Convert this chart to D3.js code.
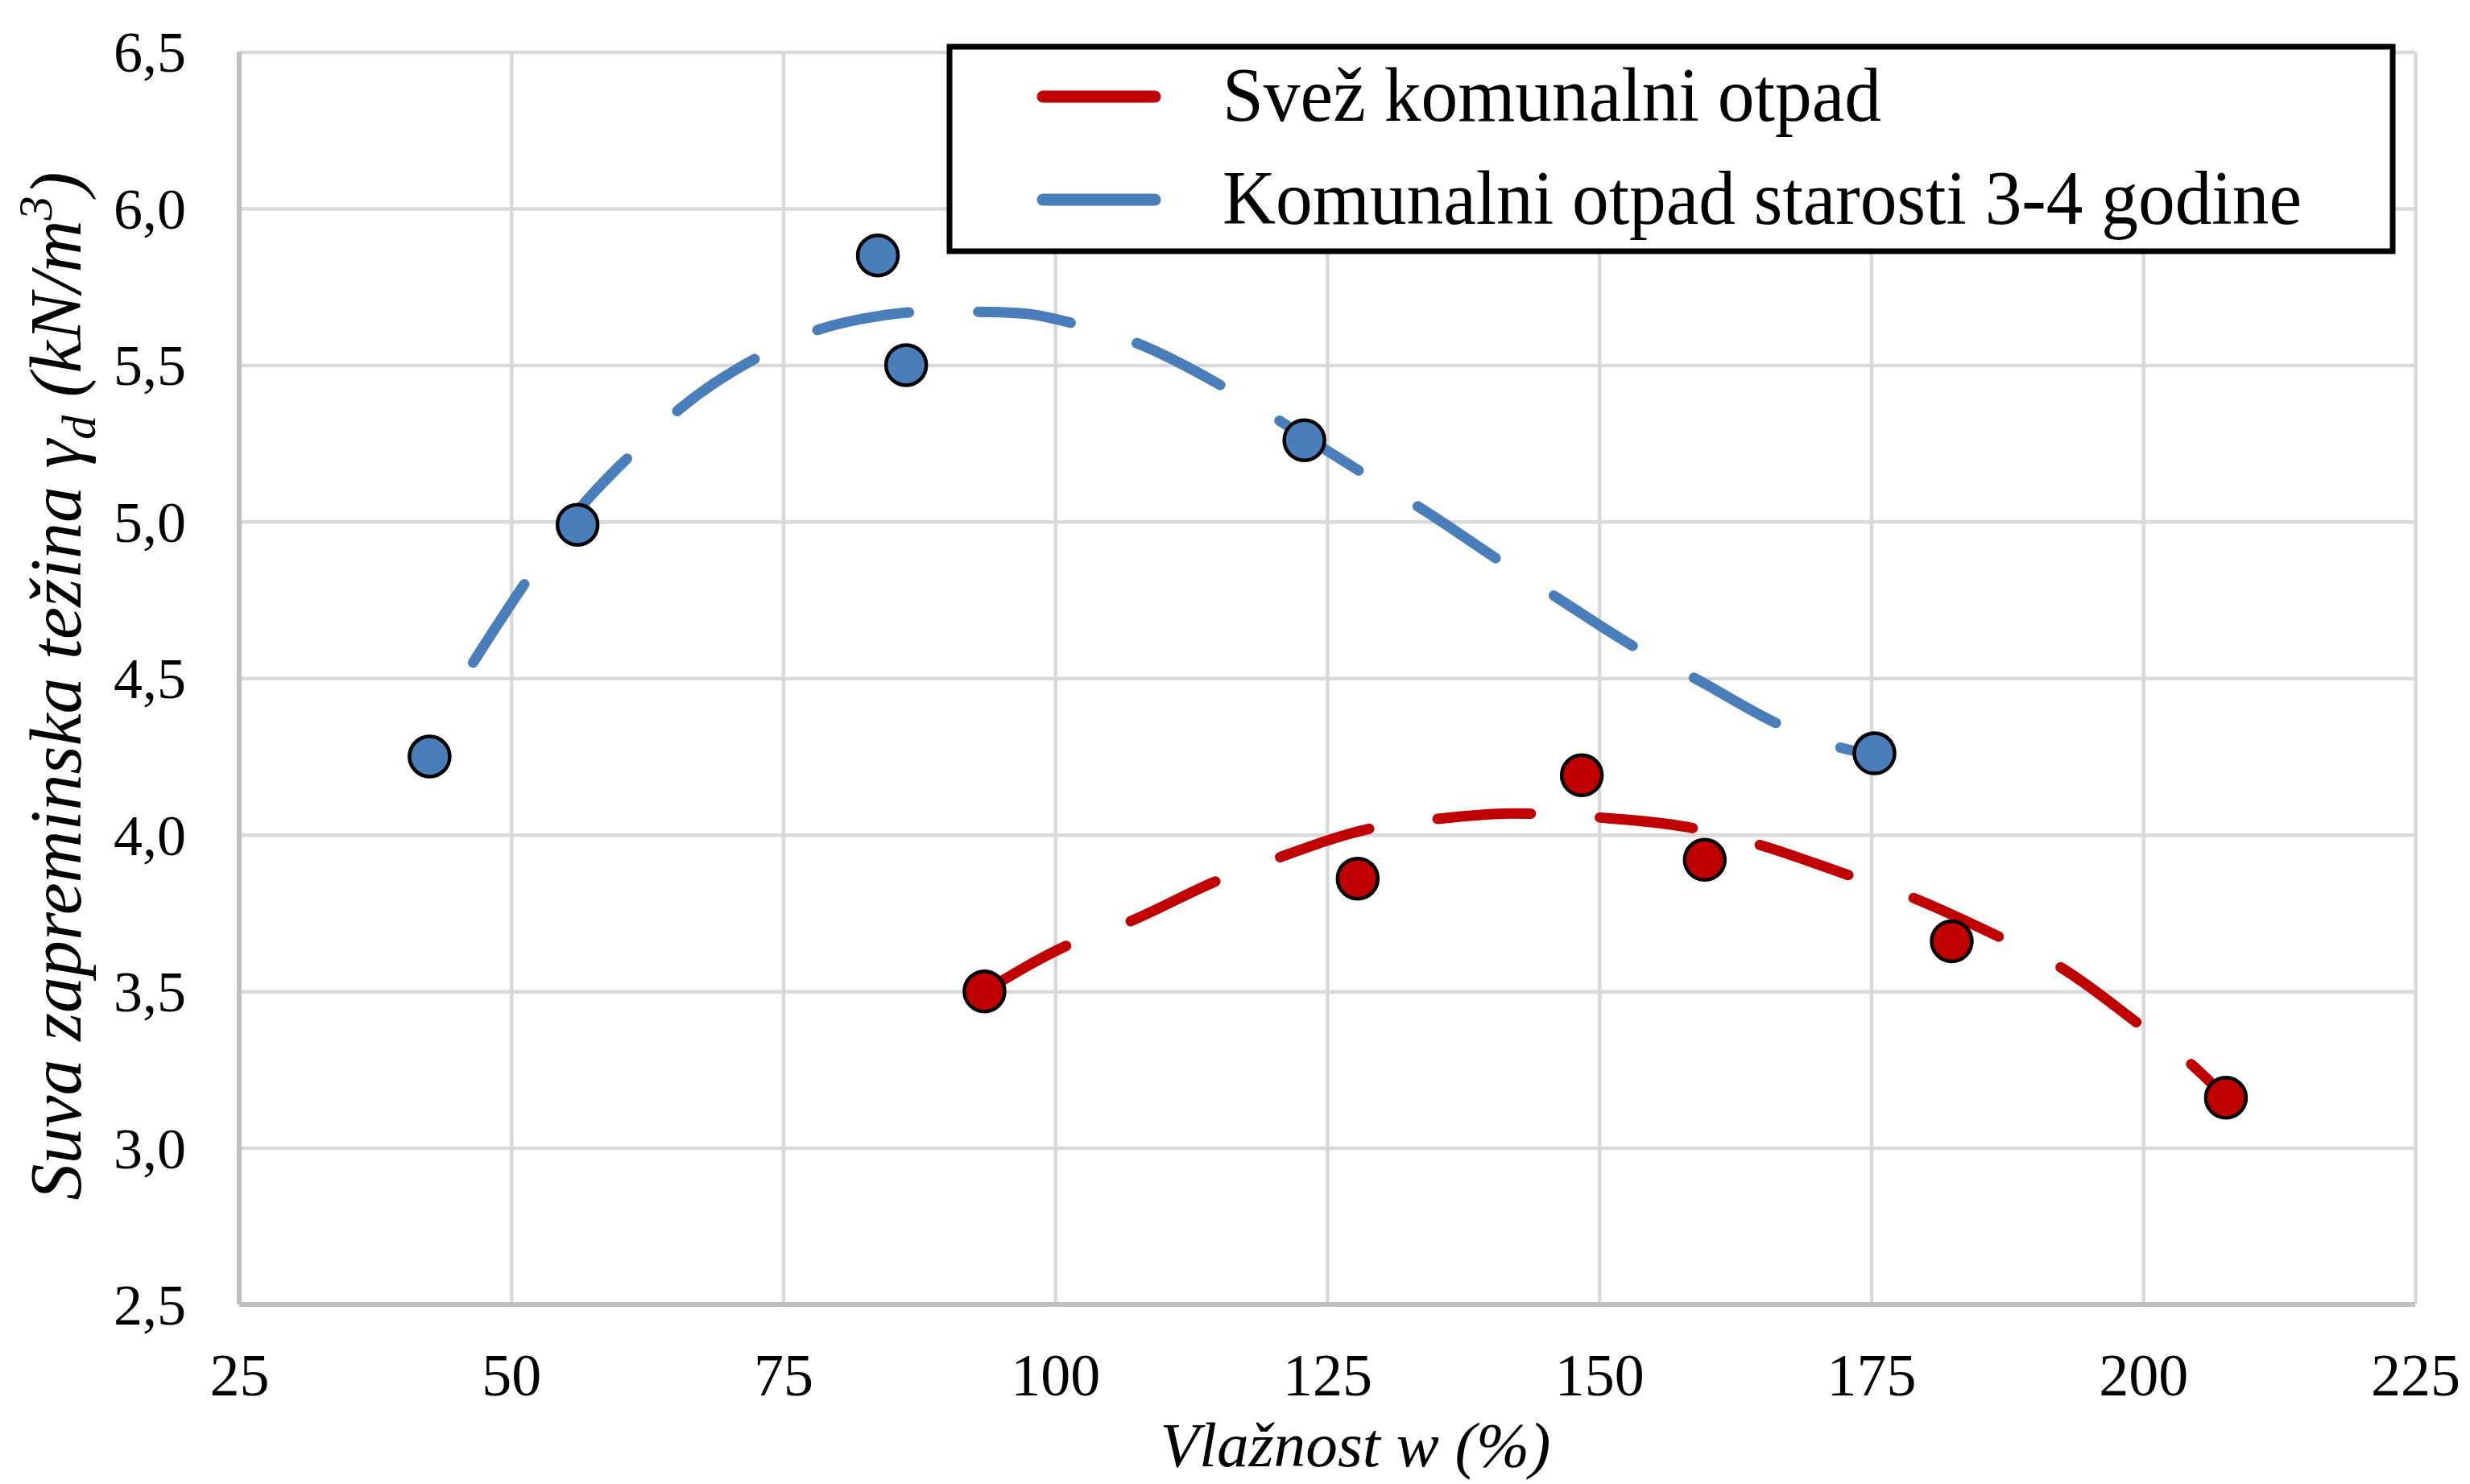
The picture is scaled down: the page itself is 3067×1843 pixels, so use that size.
<!DOCTYPE html>
<html>
<head>
<meta charset="utf-8">
<script src="https://cdn.jsdelivr.net/npm/d3@7"></script>
<style>
  body { margin: 0; background: #fff; }
  svg text { font-family: "Liberation Serif", "Times New Roman", serif; fill: #000; }
</style>
</head>
<body>
<div id="chart"></div>
<script>
// axis ticks
const xTicks = [25, 50, 75, 100, 125, 150, 175, 200, 225];
const yTicks = [2.5, 3.0, 3.5, 4.0, 4.5, 5.0, 5.5, 6.0, 6.5];

const seriesNames = ["Svež komunalni otpad", "Komunalni otpad starosti 3-4 godine"];
const seriesColors = ["#c00000", "#4a7ebb"];

// measured points: moisture w (%) and dry unit weight (kN/m3)
const freshW = [93.5, 127.8, 148.4, 159.7, 182.4, 207.6];
const freshGamma = [3.50, 3.86, 4.19, 3.92, 3.66, 3.16];
const agedW = [42.5, 56.1, 83.7, 86.3, 122.9, 175.3];
const agedGamma = [4.25, 4.99, 5.85, 5.50, 5.26, 4.26];

// trend lines
const freshTrendW = [93.5, 101, 107, 115, 120, 129, 135, 142, 150, 158, 164, 173, 178, 187, 192, 200, 204, 207.5];
const freshTrendGamma = [3.50, 3.645, 3.725, 3.855, 3.92, 4.02, 4.05, 4.068, 4.055, 4.025, 3.975, 3.87, 3.81, 3.67, 3.585, 3.385, 3.28, 3.165];
const agedTrendW = [46.5, 52, 56.5, 61.5, 65.5, 73.5, 78, 83.5, 88, 93, 97, 102, 107.5, 116, 123, 128.5, 133.5, 141.5, 146, 154, 158.5, 167, 172, 175.3];
const agedTrendGamma = [4.55, 4.84, 5.05, 5.23, 5.36, 5.54, 5.61, 5.655, 5.67, 5.67, 5.665, 5.63, 5.57, 5.42, 5.27, 5.15, 5.045, 4.86, 4.76, 4.585, 4.505, 4.345, 4.28, 4.255];

const W = 3067, H = 1843;
const plotLeft = 297, plotRight = 2999, plotTop = 64.5, plotBottom = 1620;

const svg = d3.select("#chart").append("svg")
    .attr("width", W)
    .attr("height", H);

svg.append("rect").attr("width", W).attr("height", H).attr("fill", "#fff");

const x = d3.scaleLinear().domain([25, 225]).range([plotLeft, plotRight]);
const y = d3.scaleLinear().domain([2.5, 6.5]).range([plotBottom, plotTop]);

const fmt = d3.formatLocale({decimal: ",", thousands: ".", grouping: [3], currency: ["", ""]}).format(".1f");

// gridlines
svg.append("g")
    .attr("transform", `translate(0,${plotBottom})`)
    .call(d3.axisBottom(x).tickValues(xTicks).tickSize(-(plotBottom - plotTop)).tickFormat(""))
    .call(g => g.select(".domain").remove())
    .call(g => g.selectAll("line").attr("stroke", "#d9d9d9").attr("stroke-width", 4.5));

svg.append("g")
    .attr("transform", `translate(${plotLeft},0)`)
    .call(d3.axisLeft(y).tickValues(yTicks).tickSize(-(plotRight - plotLeft)).tickFormat(""))
    .call(g => g.select(".domain").remove())
    .call(g => g.selectAll("line").attr("stroke", "#d9d9d9").attr("stroke-width", 4.5));

// axis lines
svg.append("line").attr("x1", plotLeft).attr("x2", plotLeft).attr("y1", plotTop).attr("y2", plotBottom)
    .attr("stroke", "#bfbfbf").attr("stroke-width", 6);
svg.append("line").attr("x1", plotLeft).attr("x2", plotRight).attr("y1", plotBottom).attr("y2", plotBottom)
    .attr("stroke", "#bfbfbf").attr("stroke-width", 6);

// tick labels
svg.append("g")
    .attr("transform", `translate(0,${plotBottom})`)
    .call(d3.axisBottom(x).tickValues(xTicks).tickSize(0))
    .call(g => g.select(".domain").remove())
    .call(g => g.selectAll("text")
        .attr("y", 113).attr("dy", null)
        .style("font-size", "74px"));

svg.append("g")
    .attr("transform", `translate(${plotLeft},0)`)
    .call(d3.axisLeft(y).tickValues(yTicks).tickSize(0).tickFormat(fmt))
    .call(g => g.select(".domain").remove())
    .call(g => g.selectAll("text")
        .attr("x", -66).attr("dy", "0.34em")
        .style("font-size", "72px"));

// axis titles
svg.append("text")
    .attr("x", 1683).attr("y", 1821)
    .attr("text-anchor", "middle")
    .style("font-size", "78px")
    .style("font-style", "italic")
    .attr("textLength", 485)
    .attr("lengthAdjust", "spacingAndGlyphs")
    .text("Vlažnost w (%)");

const yTitle = svg.append("text")
    .attr("transform", "translate(100,852) rotate(-90)")
    .attr("text-anchor", "middle")
    .style("font-size", "90px")
    .style("font-style", "italic");
yTitle.append("tspan").text("Suva zapreminska težina γ");
yTitle.append("tspan").attr("dy", 18).style("font-size", "60px").text("d");
yTitle.append("tspan").attr("dy", -18).text(" (kN/m");
yTitle.append("tspan").attr("dy", -36).style("font-size", "60px").text("3");
yTitle.append("tspan").attr("dy", 36).text(")");

// trend lines
const line = d3.line().x(d => x(d[0])).y(d => y(d[1])).curve(d3.curveMonotoneX);

const trends = [
    d3.zip(freshTrendW, freshTrendGamma),
    d3.zip(agedTrendW, agedTrendGamma)
];
svg.selectAll(".trend")
    .data(trends)
    .enter()
    .append("path")
    .attr("class", "trend")
    .attr("d", line)
    .attr("fill", "none")
    .attr("stroke", (d, i) => seriesColors[i])
    .attr("stroke-width", 13)
    .attr("stroke-linecap", "round")
    .attr("stroke-dasharray", "116 86");

// points
const points = [
    d3.zip(freshW, freshGamma),
    d3.zip(agedW, agedGamma)
];
points.forEach((pts, i) => {
    svg.selectAll(".pt" + i)
        .data(pts)
        .enter()
        .append("circle")
        .attr("class", "pt" + i)
        .attr("cx", d => x(d[0]))
        .attr("cy", d => y(d[1]))
        .attr("r", 25)
        .attr("fill", seriesColors[i])
        .attr("stroke", "#000")
        .attr("stroke-width", 4.5);
});

// legend
const legend = svg.append("g");
legend.append("rect")
    .attr("x", 1179).attr("y", 58)
    .attr("width", 1792).attr("height", 254)
    .attr("fill", "#fff")
    .attr("stroke", "#000")
    .attr("stroke-width", 7);

const legendRows = [120, 248];
const legendLengths = [818, 1340];
seriesNames.forEach((name, i) => {
    legend.append("line")
        .attr("x1", 1295).attr("x2", 1434)
        .attr("y1", legendRows[i]).attr("y2", legendRows[i])
        .attr("stroke", seriesColors[i])
        .attr("stroke-width", 15)
        .attr("stroke-linecap", "round");
    legend.append("text")
        .attr("x", 1518).attr("y", legendRows[i] + 30)
        .style("font-size", "95px")
        .attr("textLength", legendLengths[i])
        .attr("lengthAdjust", "spacingAndGlyphs")
        .text(name);
});
</script>
</body>
</html>
